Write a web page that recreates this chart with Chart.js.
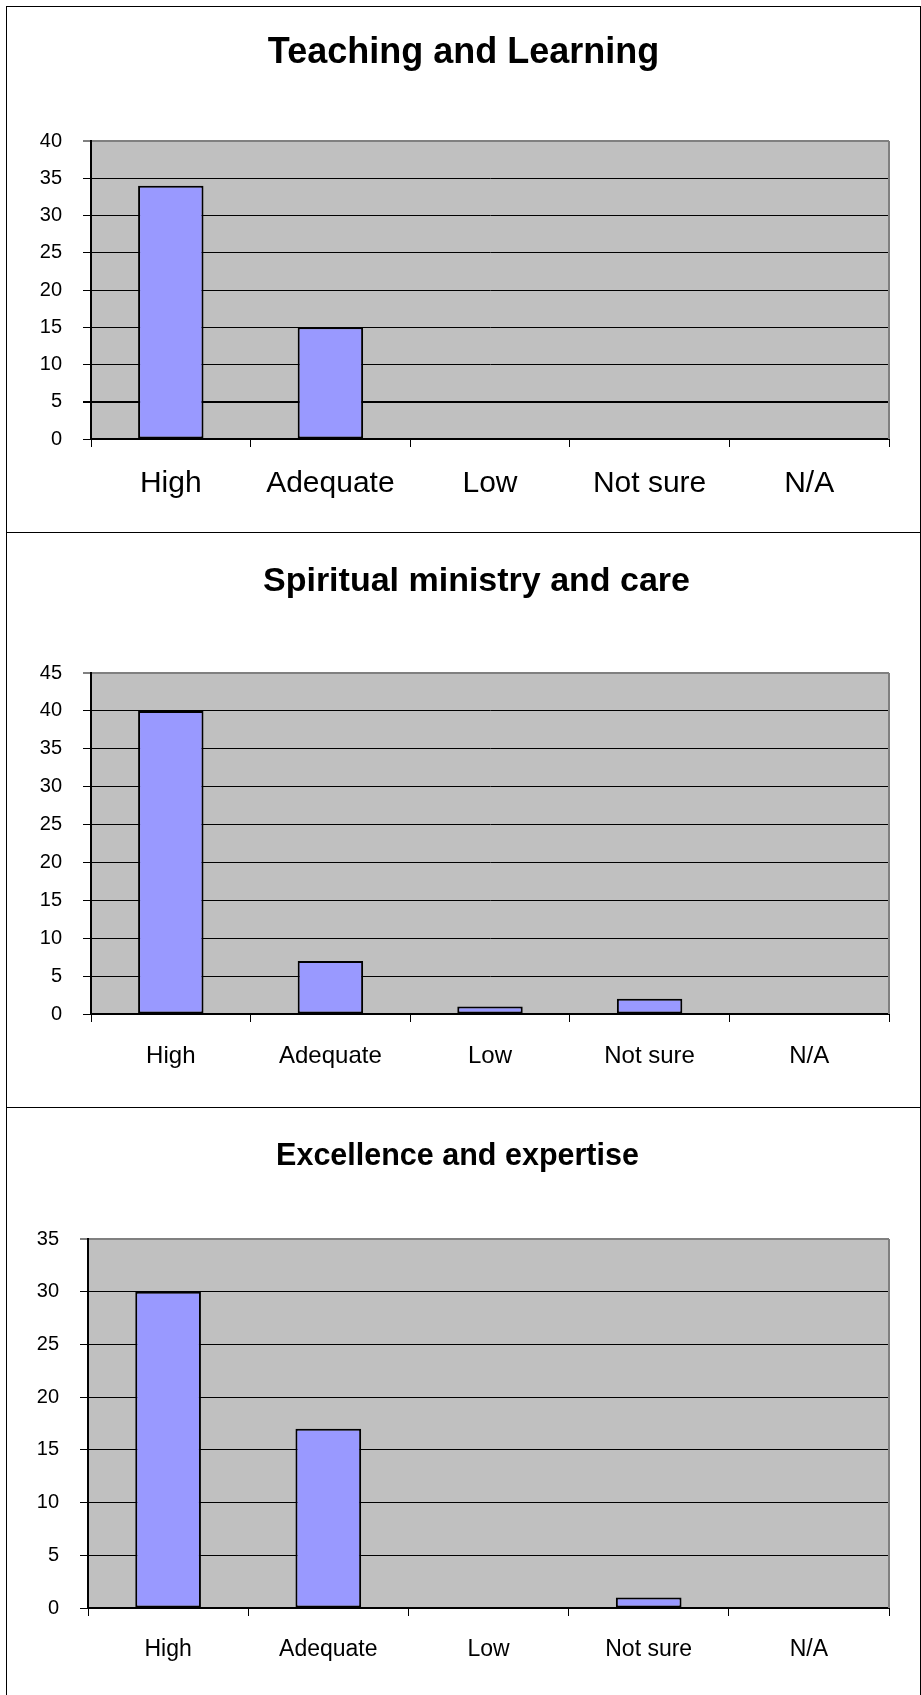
<!DOCTYPE html>
<html>
<head>
<meta charset="utf-8">
<script src="https://cdn.jsdelivr.net/npm/chart.js@4.4.0/dist/chart.umd.min.js"></script>
<style>
  body { margin: 0; background: #fff; }
  #page { position: relative; width: 921px; height: 1695px; overflow: hidden; }
  #frame { position: absolute; left: 6px; top: 6px; width: 913px; height: 1690px; border: 1px solid #000; border-bottom: none; }
  .sep { position: absolute; left: 6px; width: 915px; height: 1px; background: #000; }
  canvas { position: absolute; left: 7px; }
</style>
</head>
<body>
<div id="page">
  <div id="frame"></div>
  <div class="sep" style="top:532px"></div>
  <div class="sep" style="top:1107px"></div>
  <canvas id="c1" width="913" height="525" style="top:7px"></canvas>
  <canvas id="c2" width="913" height="574" style="top:533px"></canvas>
  <canvas id="c3" width="913" height="586" style="top:1108px"></canvas>
</div>
<script>
// dados dos três gráficos
const categories = ['High', 'Adequate', 'Low', 'Not sure', 'N/A'];
const teachingValues = [34, 15, 0, 0, 0];
const spiritualValues = [40, 7, 1, 2, 0];
const excellenceValues = [30, 17, 0, 1, 0];
const titles = ['Teaching and Learning', 'Spiritual ministry and care', 'Excellence and expertise'];
const yMax = [40, 45, 35];
const yStep = 5;

const FONT = "'Liberation Sans', Arial, sans-serif";

// fundo cinza da área do gráfico + borda direita
const plotArea = {
  id: 'plotArea',
  beforeDraw: (chart) => {
    const { ctx, chartArea: a } = chart;
    ctx.save();
    ctx.fillStyle = '#C0C0C0';
    ctx.fillRect(a.left, a.top, a.right - a.left, a.bottom - a.top);
    ctx.restore();
  },
  afterDraw: (chart) => {
    const { ctx, chartArea: a } = chart;
    ctx.save();
    ctx.strokeStyle = '#808080';
    ctx.lineWidth = 2;
    ctx.beginPath();
    ctx.moveTo(a.right, a.top);
    ctx.lineTo(a.right, a.bottom);
    ctx.stroke();
    ctx.restore();
  },
};

const makeChart = (id, title, values, max, cfg) => {
  new Chart(document.getElementById(id).getContext('2d'), {
    type: 'bar',
    data: {
      labels: categories,
      datasets: [
        {
          data: values,
          backgroundColor: '#9999FF',
          borderColor: '#000000',
          borderWidth: 2,
          borderSkipped: false,
          barPercentage: 0.41,
          categoryPercentage: 1,
        },
      ],
    },
    options: {
      responsive: false,
      animation: false,
      // padding lateral só desloca o título
      layout: { padding: { left: cfg.padL, right: cfg.padR, top: 0, bottom: 0 } },
      plugins: {
        legend: { display: false },
        tooltip: { enabled: false },
        title: {
          display: true,
          text: title,
          color: '#000',
          font: { family: FONT, size: cfg.titleSize, weight: 'bold', lineHeight: 1.2 },
          padding: { top: cfg.titleTop, bottom: cfg.titleBottom },
        },
      },
      scales: {
        x: {
          grid: {
            display: true,
            drawOnChartArea: false,
            drawTicks: true,
            tickLength: 8,
            color: '#000',
            lineWidth: 1,
            offset: true,
          },
          border: { color: '#000', width: 2 },
          ticks: { color: '#000', font: { family: FONT, size: cfg.xSize }, padding: cfg.xPad, maxRotation: 0 },
          afterFit: (s) => { s.height = cfg.xHeight; },
        },
        y: {
          min: 0,
          max: max,
          ticks: { stepSize: yStep, color: '#000', font: { family: FONT, size: 20 }, padding: 21 },
          grid: {
            color: (c) => (c.tick && c.tick.value === max ? '#808080' : '#000'),
            lineWidth: (c) => (c.tick && c.tick.value === max ? 2 : (cfg.thick === c.tick?.value ? 2 : 1)),
            tickLength: 8,
          },
          border: { color: '#000', width: 2 },
          afterFit: (s) => { s.width = cfg.yWidth - cfg.padL; },
        },
        // eixo fantasma à direita, só para reservar espaço
        r: {
          position: 'right',
          display: true,
          grid: { display: false },
          border: { display: false },
          ticks: { display: false },
          afterFit: (s) => { s.width = 31 - cfg.padR; },
        },
      },
    },
    plugins: [plotArea],
  });
};

makeChart('c1', titles[0], teachingValues, yMax[0], {
  titleSize: 36, titleTop: 24, titleBottom: 66.8, padL: 0, padR: 0,
  xSize: 30, xPad: 19, xHeight: 93, yWidth: 84, thick: 5,
});
makeChart('c2', titles[1], spiritualValues, yMax[1], {
  titleSize: 34, titleTop: 28.6, titleBottom: 70.6, padL: 26, padR: 0,
  xSize: 24, xPad: 19.6, xHeight: 93, yWidth: 84,
});
makeChart('c3', titles[2], excellenceValues, yMax[2], {
  titleSize: 30.5, titleTop: 30, titleBottom: 64.4, padL: 0, padR: 12,
  xSize: 23, xPad: 19.5, xHeight: 86, yWidth: 81,
});
</script>
</body>
</html>
